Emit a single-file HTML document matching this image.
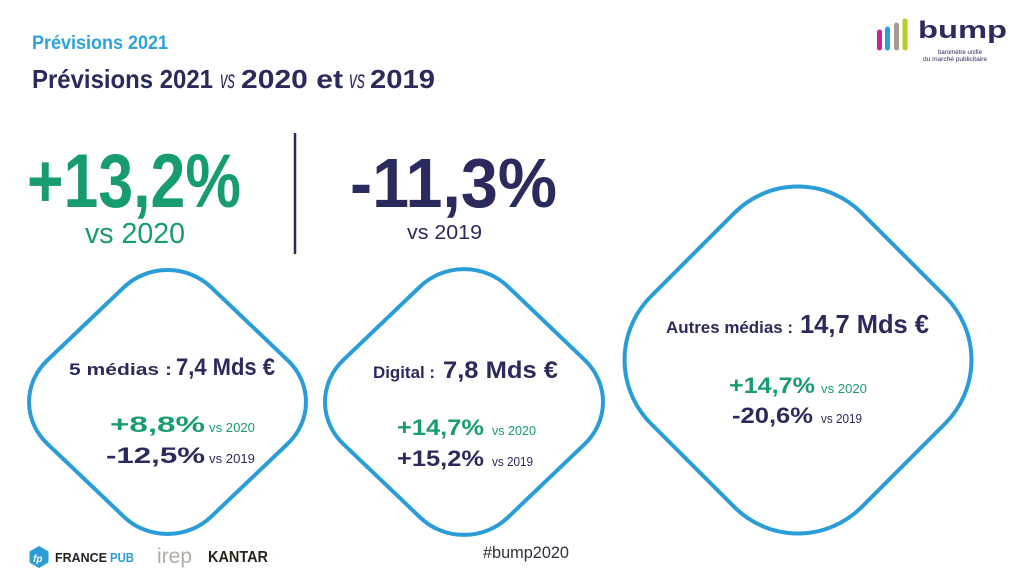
<!DOCTYPE html>
<html><head><meta charset="utf-8"><style>
html,body{margin:0;padding:0;background:#fff;}
svg{display:block;}
text{font-family:"Liberation Sans",Arial,sans-serif;}
</style></head><body>
<svg width="1024" height="575" viewBox="0 0 1024 575" xmlns="http://www.w3.org/2000/svg">
<rect width="1024" height="575" fill="#ffffff"/>

<!-- Titles -->
<text x="32" y="49" font-size="19" font-weight="bold" fill="#2ca3dd" textLength="136" lengthAdjust="spacingAndGlyphs">Prévisions 2021</text>
<g fill="#2b2a5c" font-size="26">
<text x="32" y="88" font-weight="bold" textLength="181" lengthAdjust="spacingAndGlyphs">Prévisions 2021</text>
<text x="220" y="88" font-style="italic" textLength="15" lengthAdjust="spacingAndGlyphs">vs</text>
<text x="241" y="88" font-weight="bold" textLength="102" lengthAdjust="spacingAndGlyphs">2020 et</text>
<text x="349" y="88" font-style="italic" textLength="16" lengthAdjust="spacingAndGlyphs">vs</text>
<text x="370" y="88" font-weight="bold" textLength="65" lengthAdjust="spacingAndGlyphs">2019</text>
</g>

<!-- Big numbers -->
<text x="27" y="207" font-size="76" font-weight="bold" fill="#179c72" textLength="214" lengthAdjust="spacingAndGlyphs">+13,2%</text>
<text x="85" y="243" font-size="29" fill="#179c72" textLength="100" lengthAdjust="spacingAndGlyphs">vs 2020</text>
<line x1="295" y1="133" x2="295" y2="254" stroke="#2b2a5c" stroke-width="2.5"/>
<text x="350" y="207" font-size="70" font-weight="bold" fill="#2b2a5c" textLength="207" lengthAdjust="spacingAndGlyphs">-11,3%</text>
<text x="407" y="239" font-size="20" fill="#2b2a5c" textLength="75" lengthAdjust="spacingAndGlyphs">vs 2019</text>

<!-- Diamonds -->
<g fill="none" stroke="#2a9dd8" stroke-width="4">
<g transform="translate(167.5,402) scale(1.026,0.978) rotate(45)"><rect x="-113" y="-113" width="226" height="226" rx="60" ry="60" vector-effect="non-scaling-stroke"/></g>
<g transform="translate(464,402) scale(1.03,0.985) rotate(45)"><rect x="-113" y="-113" width="226" height="226" rx="60" ry="60" vector-effect="non-scaling-stroke"/></g>
<g transform="translate(798,360) rotate(45)"><rect x="-149" y="-149" width="298" height="298" rx="90" ry="90"/></g>
</g>

<!-- Diamond 1 -->
<text x="69" y="375" font-size="16.5" font-weight="bold" fill="#2b2a5c" textLength="103" lengthAdjust="spacingAndGlyphs">5 médias :</text>
<text x="176" y="375" font-size="24" font-weight="bold" fill="#2b2a5c" textLength="99" lengthAdjust="spacingAndGlyphs">7,4 Mds €</text>
<text x="110" y="432" font-size="22" font-weight="bold" fill="#179c72" textLength="95" lengthAdjust="spacingAndGlyphs">+8,8%</text>
<text x="209" y="432" font-size="13" fill="#179c72" textLength="46" lengthAdjust="spacingAndGlyphs">vs 2020</text>
<text x="106" y="463" font-size="22" font-weight="bold" fill="#2b2a5c" textLength="99" lengthAdjust="spacingAndGlyphs">-12,5%</text>
<text x="209" y="463" font-size="13" fill="#2b2a5c" textLength="46" lengthAdjust="spacingAndGlyphs">vs 2019</text>

<!-- Diamond 2 -->
<text x="373" y="378" font-size="16.5" font-weight="bold" fill="#2b2a5c" textLength="62" lengthAdjust="spacingAndGlyphs">Digital :</text>
<text x="443" y="378" font-size="24" font-weight="bold" fill="#2b2a5c" textLength="115" lengthAdjust="spacingAndGlyphs">7,8 Mds €</text>
<text x="397" y="435" font-size="22" font-weight="bold" fill="#179c72" textLength="87" lengthAdjust="spacingAndGlyphs">+14,7%</text>
<text x="492" y="435" font-size="13" fill="#179c72" textLength="44" lengthAdjust="spacingAndGlyphs">vs 2020</text>
<text x="397" y="466" font-size="22" font-weight="bold" fill="#2b2a5c" textLength="87" lengthAdjust="spacingAndGlyphs">+15,2%</text>
<text x="492" y="466" font-size="13" fill="#2b2a5c" textLength="41" lengthAdjust="spacingAndGlyphs">vs 2019</text>

<!-- Diamond 3 -->
<text x="666" y="333" font-size="17" font-weight="bold" fill="#2b2a5c" textLength="127" lengthAdjust="spacingAndGlyphs">Autres médias :</text>
<text x="800" y="333" font-size="26" font-weight="bold" fill="#2b2a5c" textLength="129" lengthAdjust="spacingAndGlyphs">14,7 Mds €</text>
<text x="729" y="393" font-size="22" font-weight="bold" fill="#179c72" textLength="86" lengthAdjust="spacingAndGlyphs">+14,7%</text>
<text x="821" y="393" font-size="13" fill="#179c72" textLength="46" lengthAdjust="spacingAndGlyphs">vs 2020</text>
<text x="732" y="423" font-size="22" font-weight="bold" fill="#2b2a5c" textLength="81" lengthAdjust="spacingAndGlyphs">-20,6%</text>
<text x="821" y="423" font-size="13" fill="#2b2a5c" textLength="41" lengthAdjust="spacingAndGlyphs">vs 2019</text>

<!-- Hashtag -->
<text x="483" y="558" font-size="17" fill="#2f2f3a" textLength="86" lengthAdjust="spacingAndGlyphs">#bump2020</text>

<!-- Footer logos -->
<polygon points="39,546 48.5,551.5 48.5,562.5 39,568 29.5,562.5 29.5,551.5" fill="#2a9dd8"/>
<text x="33" y="562" font-size="10" font-style="italic" font-weight="bold" fill="#fff">fp</text>
<text x="55" y="562" font-size="13" font-weight="bold" fill="#222" textLength="52" lengthAdjust="spacingAndGlyphs">FRANCE</text>
<text x="110" y="562" font-size="13" font-weight="bold" fill="#2a9dd8" textLength="24" lengthAdjust="spacingAndGlyphs">PUB</text>
<text x="157" y="563" font-size="21" fill="#b3aca6" textLength="35" lengthAdjust="spacingAndGlyphs">irep</text>
<text x="208" y="562" font-size="16" font-weight="bold" fill="#2a2418" textLength="60" lengthAdjust="spacingAndGlyphs">KANTAR</text>

<!-- bump logo -->
<g stroke-width="5" stroke-linecap="round">
<line x1="879.5" y1="32" x2="879.5" y2="48" stroke="#c8238f"/>
<line x1="887.5" y1="29" x2="887.5" y2="48" stroke="#2aa0da"/>
<line x1="896.5" y1="25" x2="896.5" y2="48" stroke="#a89a8c"/>
<line x1="905" y1="21" x2="905" y2="48" stroke="#b5cf25"/>
</g>
<text x="918" y="38" font-size="24" font-weight="bold" fill="#2d2a5f" textLength="89" lengthAdjust="spacingAndGlyphs">bump</text>
<text x="938" y="54" font-size="6" fill="#2d2a5f" textLength="44" lengthAdjust="spacingAndGlyphs">baromètre unifié</text>
<text x="923" y="61" font-size="6" fill="#2d2a5f" textLength="64" lengthAdjust="spacingAndGlyphs">du marché publicitaire</text>
</svg>
</body></html>
